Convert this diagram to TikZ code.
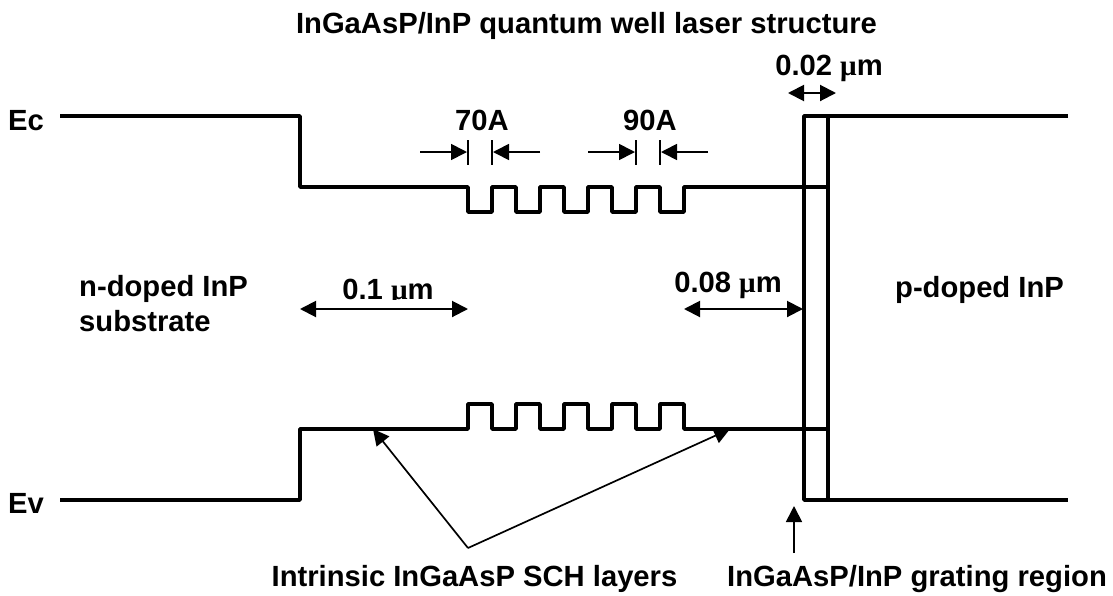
\documentclass[tikz,border=0pt]{standalone}
\usepackage{fontspec}
\setmainfont{Liberation Sans}
\newfontfamily\symf{Liberation Serif}
\usetikzlibrary{arrows.meta}
\newcommand{\um}{{\symf\bfseries μ}m}
\tikzset{
  band/.style={line width=3.7pt,line join=round,line cap=butt},
  thin arrow/.style={line width=1.7pt,-{Stealth[length=16pt,width=16pt,inset=0pt]}},
  dbl arrow/.style={line width=2pt,{Stealth[length=16pt,width=16pt,inset=0pt]}-{Stealth[length=16pt,width=16pt,inset=0pt]}},
  bar/.style={line width=2.3pt},
  lbl/.style={font=\fontsize{29.2}{35}\selectfont\bfseries,inner sep=0pt,text=black,anchor=base},
}
\begin{document}
\begin{tikzpicture}[x=1pt,y=-1pt]
\useasboundingbox (0,0) rectangle (1113,595);
% band edges
\draw[band] (60,116) -- (300,116) -- (300,187) -- (468,187)
  -- (468,212) -- (492,212) -- (492,187) -- (516,187) -- (516,212) -- (540,212) -- (540,187)
  -- (564,187) -- (564,212) -- (588,212) -- (588,187) -- (612,187) -- (612,212) -- (636,212) -- (636,187)
  -- (660,187) -- (660,212) -- (684,212) -- (684,187) -- (828,187);
\draw[band] (60,500) -- (300,500) -- (300,429) -- (468,429)
  -- (468,404) -- (492,404) -- (492,429) -- (516,429) -- (516,404) -- (540,404) -- (540,429)
  -- (564,429) -- (564,404) -- (588,404) -- (588,429) -- (612,429) -- (612,404) -- (636,404) -- (636,429)
  -- (660,429) -- (660,404) -- (684,404) -- (684,429) -- (828,429);
\draw[band] (1068,116) -- (804,116) -- (804,500) -- (1068,500);
\draw[band] (828,116) -- (828,500);
% labels
\node[lbl] (title) at (586.5,33) {InGaAsP/InP quantum well laser structure};
\node[lbl,anchor=base west] (ec) at (8,130) {Ec};
\node[lbl,anchor=base west] (ev) at (8,513) {Ev};
\node[lbl] (d70) at (482,130) {70A};
\node[lbl] (d90) at (650,130) {90A};
\node[lbl] (d02) at (829,75) {0.02 \um};
\node[lbl] (d01) at (388,299) {0.1 \um};
\node[lbl] (d08) at (728,292) {0.08 \um};
\node[lbl,align=left,anchor=south west] (sub) at (79,332) {n-doped InP\\substrate};
\node[lbl] (pdop) at (979.5,297) {p-doped InP};
\node[lbl] (sch) at (474.5,586) {Intrinsic InGaAsP SCH layers};
\node[lbl] (grat) at (917,586) {InGaAsP/InP grating region};
% dimension marks
\coordinate (a1) at (420,152); \coordinate (a2) at (467,152);
\coordinate (a3) at (540,152); \coordinate (a4) at (493,152);
\coordinate (a5) at (588,152); \coordinate (a6) at (635,152);
\coordinate (a7) at (708,152); \coordinate (a8) at (661,152);
\draw[bar] (468,140) -- (468,165) (492,140) -- (492,165) (636,140) -- (636,165) (660,140) -- (660,165);
\draw[thin arrow] (a1) -- (a2);
\draw[thin arrow] (a3) -- (a4);
\draw[thin arrow] (a5) -- (a6);
\draw[thin arrow] (a7) -- (a8);
\coordinate (b1) at (788,93); \coordinate (b2) at (836,93);
\coordinate (c1) at (300,309); \coordinate (c2) at (468,309);
\coordinate (e1) at (684,309); \coordinate (e2) at (803,309);
\fill[white] (340,300) rectangle (440,312);
\draw[dbl arrow] (b1) -- (b2);
\draw[dbl arrow] (c1) -- (c2);
\draw[dbl arrow] (e1) -- (e2);
% pointers
\coordinate (apex) at (468,548);
\coordinate (p1) at (373,429);
\coordinate (p2) at (730,429);
\coordinate (g1) at (794,553);
\coordinate (g2) at (794,506);
\draw[thin arrow] (apex) -- (p1);
\draw[thin arrow] (apex) -- (p2);
\draw[thin arrow] (g1) -- (g2);
\end{tikzpicture}
\end{document}
